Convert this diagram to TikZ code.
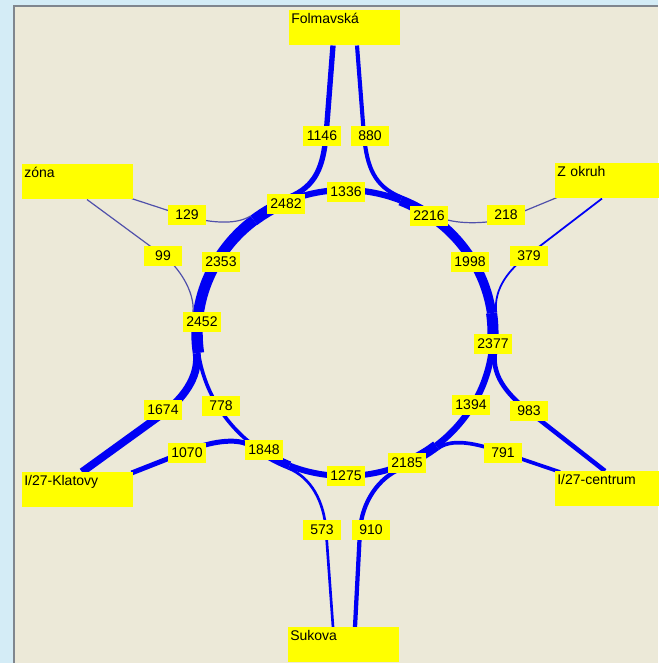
\documentclass[tikz,border=0pt]{standalone}
\usepackage{fontspec}
\setmainfont{Liberation Sans}
\usetikzlibrary{calc}
\definecolor{outerbg}{RGB}{212,236,246}
\definecolor{panel}{RGB}{236,233,216}
\definecolor{frame}{RGB}{128,134,142}
\definecolor{fblue}{RGB}{0,0,245}
\definecolor{slate}{RGB}{80,80,170}
\definecolor{tag}{RGB}{255,255,0}
\pgfdeclarelayer{bg}
\pgfdeclarelayer{flows}
\pgfsetlayers{bg,flows,main}
\begin{document}
\begin{tikzpicture}[x=0.75pt,y=-0.75pt,
  flow/.style={draw=fblue, line width={max(0.9,#1*0.0035)*1pt}},
  thinflow/.style={draw=slate, line width=0.9pt},
  num/.style={fill=tag, inner sep=0pt, minimum width=28.5pt, minimum height=15pt, font=\fontsize{10.5}{12}\selectfont},
  place/.style={fill=tag, anchor=north west, inner xsep=1.5pt, inner ysep=1.5pt, text width=80.25pt, text height=8.25pt, text depth=15pt, align=left, font=\fontsize{10.5}{12}\selectfont},
  ring/.style={x radius=148, y radius=143}]
\useasboundingbox (0,0) rectangle (658,663);
\begin{pgfonlayer}{bg}
\fill[outerbg] (0,0) rectangle (658,663);
\fill[frame] (13,5) rectangle (658,663);
\fill[panel] (15,7) rectangle (658,663);
\end{pgfonlayer}

% place boxes
\node[place] (folm) at (289,10) {Folmavská};
\node[place] (zona) at (22,164) {zóna};
\node[place] (okruh) at (555,163) {Z okruh};
\node[place] (klat) at (22,472) {I/27-Klatovy};
\node[place] (centr) at (555,471) {I/27-centrum};
\node[place] (suk) at (288,627) {Sukova};

% volume labels
\node[num] (l1146) at (322,136) {1146};
\node[num] (l880) at (370,136) {880};
\node[num] (l1336) at (346,192) {1336};
\node[num] (l2482) at (286,204) {2482};
\node[num] (l2216) at (429,216) {2216};
\node[num] (l129) at (187,215) {129};
\node[num] (l99) at (163,256) {99};
\node[num] (l2353) at (221,262) {2353};
\node[num] (l2452) at (202,322) {2452};
\node[num] (l218) at (506,215) {218};
\node[num] (l379) at (529,256) {379};
\node[num] (l1998) at (470,262) {1998};
\node[num] (l2377) at (493,344) {2377};
\node[num] (l1674) at (163,410) {1674};
\node[num] (l778) at (221,406) {778};
\node[num] (l1070) at (187,453) {1070};
\node[num] (l1848) at (264,450) {1848};
\node[num] (l1394) at (471,405) {1394};
\node[num] (l983) at (529,411) {983};
\node[num] (l791) at (503,453) {791};
\node[num] (l2185) at (407,463) {2185};
\node[num] (l1275) at (346,476) {1275};
\node[num] (l573) at (322,530) {573};
\node[num] (l910) at (371,530) {910};

% ring junctions (on the ring centre line)
\coordinate (xF) at (400.44,200.41);
\coordinate (nF) at (289.56,200.41);
\coordinate (xZ) at (253.88,220.31);
\coordinate (nZ) at (198.44,313.10);
\coordinate (xK) at (198.44,352.90);
\coordinate (nK) at (253.88,445.69);
\coordinate (xS) at (289.56,465.59);
\coordinate (nS) at (400.44,465.59);
\coordinate (xC) at (436.12,445.69);
\coordinate (nC) at (491.56,352.90);
\coordinate (xO) at (491.56,313.10);
\coordinate (nO) at (436.12,220.31);
% ramp ends at the ring (shifted to the outer side of the ring)
\coordinate (rxF) at (401.6,197.5);
\coordinate (rnF) at (288.4,197.5);
\coordinate (rxZ) at (250.5,216.0);
\coordinate (rnZ) at (193.0,312.3);
\coordinate (rxK) at (196.7,353.2);
\coordinate (rnK) at (252.8,447.1);
\coordinate (rxS) at (288.4,468.4);
\coordinate (rnS) at (401.6,468.4);
\coordinate (rxC) at (438.1,448.3);
\coordinate (rnC) at (494.8,353.4);
\coordinate (rxO) at (496.2,312.5);
\coordinate (rnO) at (439.0,216.6);

% ramp ends at the boxes
\coordinate (b1146) at ($(folm.south west)+(44,0)$);
\coordinate (b880) at ($(folm.south west)+(68,0)$);
\coordinate (b129) at ($(zona.south east)+(-2,-1)$);
\coordinate (b99) at ($(zona.south west)+(65,0)$);
\coordinate (b218) at ($(okruh.south west)+(2,-1)$);
\coordinate (b379) at ($(okruh.south west)+(47,0)$);
\coordinate (b1674) at ($(klat.north west)+(60,0)$);
\coordinate (b1070) at ($(klat.north east)+(-2,1)$);
\coordinate (b573) at ($(suk.north west)+(45,0)$);
\coordinate (b910) at ($(suk.north west)+(67,0)$);
\coordinate (b791) at ($(centr.north west)+(5,1)$);
\coordinate (b983) at ($(centr.north west)+(50,0)$);

\begin{pgfonlayer}{flows}
% ring
\draw[flow=1336] (xF) arc[ring,start angle=292,end angle=248];
\draw[flow=2482] (nF) arc[ring,start angle=248,end angle=232];
\draw[flow=2353] (xZ) arc[ring,start angle=232,end angle=188];
\draw[flow=2452] (nZ) arc[ring,start angle=188,end angle=172];
\draw[flow=778] (xK) arc[ring,start angle=172,end angle=128];
\draw[flow=1848] (nK) arc[ring,start angle=128,end angle=112];
\draw[flow=1275] (xS) arc[ring,start angle=112,end angle=68];
\draw[flow=2185] (nS) arc[ring,start angle=68,end angle=52];
\draw[flow=1394] (xC) arc[ring,start angle=52,end angle=8];
\draw[flow=2377] (nC) arc[ring,start angle=8,end angle=-8];
\draw[flow=1998] (xO) arc[ring,start angle=352,end angle=308];
\draw[flow=2216] (nO) arc[ring,start angle=308,end angle=292];
% ramps
\draw[flow=880] (rxF) .. controls +(-28,-11) and +(3,30) .. ($(l880)+(-6,0)$) -- (b880);
\draw[flow=1146] (b1146) -- ($(l1146)+(4,0)$) .. controls +(-3,30) and +(28,-11) .. (rnF);
\draw[thinflow] (rxZ) .. controls +(-16,10) and +(22,6) .. ($(l129)+(-2,1)$) -- (b129);
\draw[thinflow] (b99) -- ($(l99)+(2,1)$) .. controls +(12,9) and +(2,-22) .. (rnZ);
\draw[flow=1674] (rxK) .. controls +(3,25) and +(16,-12) .. ($(l1674)+(2,2)$) -- (b1674);
\draw[flow=1070] (b1070) -- ($(l1070)+(3,-3)$) .. controls +(15,-6) and +(-16,-12) .. (rnK);
\draw[flow=573] (rxS) .. controls +(23,9) and +(-2,-28) .. ($(l573)+(4,0)$) -- (b573);
\draw[flow=910] (b910) -- ($(l910)+(-11,0)$) .. controls +(2,-28) and +(-23,9) .. (rnS);
\draw[flow=791] (rxC) .. controls +(16,-12) and +(-20,-7) .. ($(l791)+(1,0)$) -- (b791);
\draw[flow=983] (b983) -- ($(l983)+(-2,-1)$) .. controls +(-16,-13) and +(-3,25) .. (rnC);
\draw[flow=379] (rxO) .. controls +(-3,-25) and +(-16,12) .. ($(l379)+(-2,0)$) -- (b379);
\draw[thinflow] (b218) -- ($(l218)+(-1,4)$) .. controls +(-20,5) and +(14,8) .. (rnO);
\end{pgfonlayer}
\end{tikzpicture}
\end{document}
